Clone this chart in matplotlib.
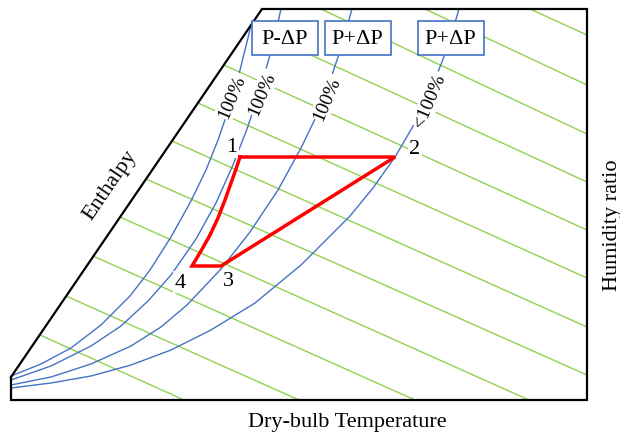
import numpy as np
import matplotlib
matplotlib.use("Agg")
import matplotlib.pyplot as plt
from matplotlib.patches import Polygon, Rectangle

plt.rcParams['font.family'] = ['Liberation Serif', 'DejaVu Serif']

# chart units: T along the bottom edge, W up the right edge
frame_T = [0, 251, 576, 576, 0, 0]
frame_W = [23, 391, 391, 0, 0, 23]

# saturation curves (blue)
curveA_T = [0, 30, 60, 90, 119, 139, 160, 180, 195, 207, 218, 228, 237, 244]
curveA_W = [24, 36, 52, 75, 104, 130, 163, 199, 230, 260, 292, 326, 362, 394]
curveB_T = [0, 40, 80, 110, 137, 160, 185, 205, 222, 236, 248, 259, 266, 271]
curveB_W = [20, 34, 54, 74, 99, 125, 161, 197, 235, 271, 307, 345, 373, 396]
curveC_T = [0, 40, 80, 120, 150, 176, 210, 239, 267, 290, 305, 318, 330, 341]
curveC_W = [15, 23, 36, 54, 73, 95, 131, 168, 210, 252, 283, 316, 352, 391]
curveD_T = [0, 40, 80, 120, 160, 200, 244, 290, 339, 362, 384, 401, 416, 431, 440, 448]
curveD_W = [12, 17, 24, 35, 50, 70, 97, 135, 184, 212, 243, 272, 302, 338, 364, 391]
curves = [(curveA_T, curveA_W), (curveB_T, curveB_W),
          (curveC_T, curveC_W), (curveD_T, curveD_W)]

# enthalpy lines (green), start / end
enth_T0 = [519, 414, 310, 239, 213, 187, 161, 135, 109, 82, 55, 29]
enth_W0 = [391, 391, 391, 373, 335, 297, 259, 221, 183, 144, 104, 65]
enth_T1 = [576, 576, 576, 576, 576, 576, 576, 576, 518, 404, 288, 173]
enth_W1 = [365, 315, 266, 218, 170, 122, 73, 25, 0, 0, 0, 0]

# cycle 1-2-3-4 (red), 4 back to 1 along a bent path
cycle_T = [229, 384, 210, 181, 190, 199, 207, 214, 220, 225, 229]
cycle_W = [243, 243, 134, 134, 149, 165, 182, 200, 217, 231, 243]

state_labels = ['1', '2', '3', '4']
state_T = [221, 404, 217, 169]
state_W = [253, 251, 119, 118]

rh_labels = ['100%', '100%', '100%', '<100%']
rh_T = [221, 251, 316, 419]
rh_W = [304, 307, 302, 300]

box_labels = ['P-ΔP', 'P+ΔP', 'P+ΔP']
box_T = [274, 346.5, 439.5]
box_W = 362

blue = '#4472C4'
green = '#92D050'

fig = plt.figure(figsize=(6.2, 4.39), dpi=100)
ax = fig.add_axes([11 / 620, 38 / 439, 576 / 620, 391 / 439])
ax.set_xlim(0, 576)
ax.set_ylim(0, 391)
ax.axis('off')

region = Polygon(np.column_stack([frame_T, frame_W]), closed=True,
                 facecolor='none', edgecolor='none')
ax.add_patch(region)

for t0, w0, t1, w1 in zip(enth_T0, enth_W0, enth_T1, enth_W1):
    ln, = ax.plot([t0, t1], [w0, w1], color=green, lw=1.0, zorder=1)
    ln.set_clip_path(region)

for t, w in curves:
    ln, = ax.plot(t, w, color=blue, lw=1.0, zorder=2)
    ln.set_clip_path(region)

ax.plot(frame_T, frame_W, color='black', lw=1.6, zorder=3, clip_on=False,
        solid_joinstyle='miter')

ax.plot(cycle_T, cycle_W, color='red', lw=2.5, zorder=5,
        solid_joinstyle='miter')

white = dict(facecolor='white', edgecolor='none', pad=1.0)
for s, t, w in zip(state_labels, state_T, state_W):
    ax.text(t, w, s, fontsize=16, ha='center', va='center', zorder=4, bbox=white)

for s, t, w in zip(rh_labels, rh_T, rh_W):
    ax.text(t, w, s, fontsize=14, ha='center', va='center', rotation=67,
            rotation_mode='anchor', zorder=4, bbox=white)

for s, t in zip(box_labels, box_T):
    ax.add_patch(Rectangle((t - 33, box_W - 17), 66, 34, facecolor='white',
                           edgecolor=blue, lw=1.2, zorder=6))
    ax.text(t, box_W, s, fontsize=16, ha='center', va='center', zorder=7)

ax.text(99, 216, 'Enthalpy', fontsize=16, ha='center', va='center',
        rotation=55.7, rotation_mode='anchor')
fig.text(347 / 620, 1 - 423 / 439, 'Dry-bulb Temperature', fontsize=16,
         ha='center', va='center')
fig.text(612 / 620, 1 - 225 / 439, 'Humidity ratio', fontsize=16,
         ha='center', va='center', rotation=90)

fig.savefig('out.png', dpi=100)
